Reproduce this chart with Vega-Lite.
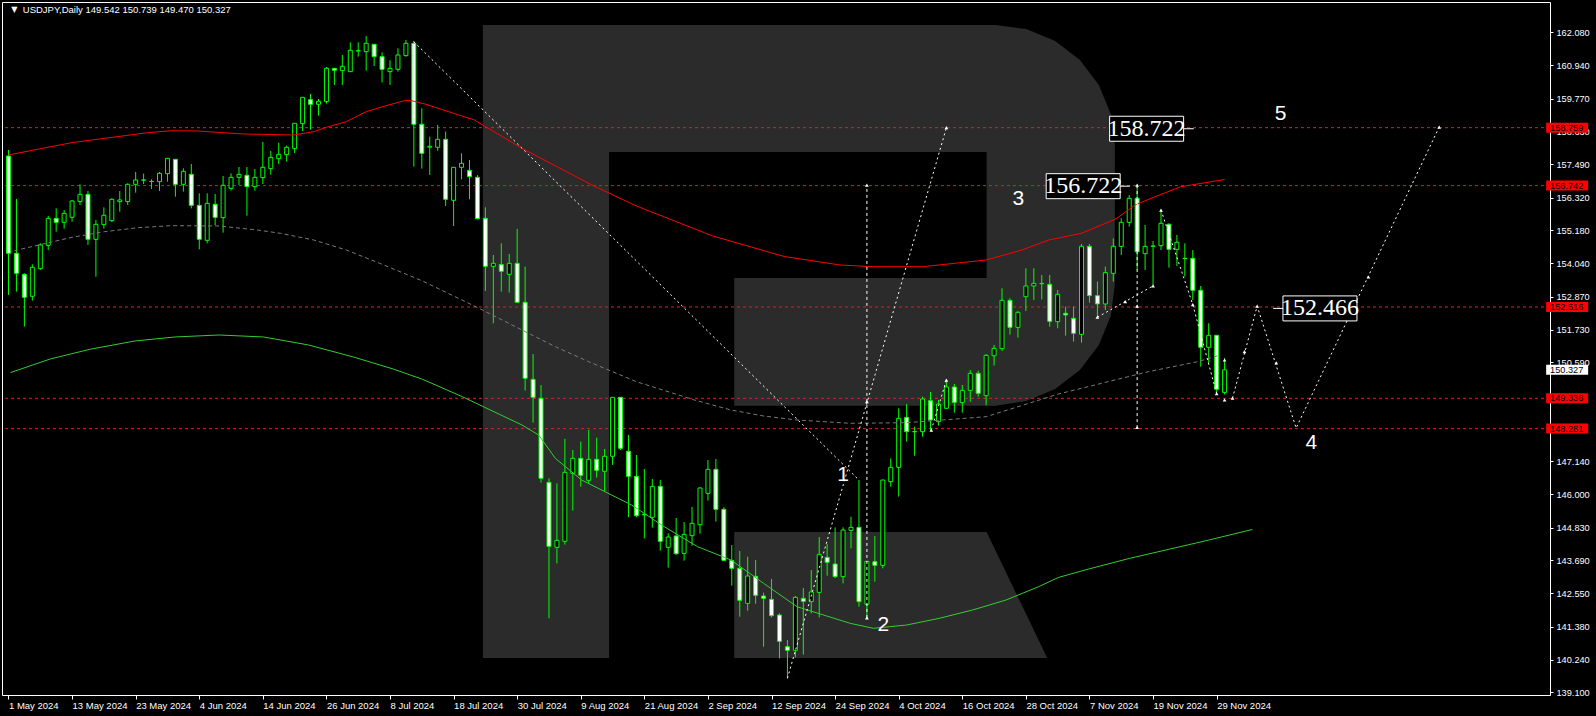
{
"$schema":"https://vega.github.io/schema/vega-lite/v6.json",
"width":1548,"height":693,
"autosize":{"type":"none"},
"padding":{"left":2,"top":2,"right":46,"bottom":21},
"background":"#000000",
"config":{"view":{"stroke":"#ffffff","strokeWidth":1},"font":"Liberation Sans","text":{"font":"Liberation Sans"},
 "axis":{"domain":false,"grid":false,"labelColor":"#ffffff","tickColor":"#ffffff","labelFont":"Liberation Sans","labelOverlap":false,"labelFlush":false}},
"datasets":{
"logoRects":[{"x1":59.69,"x2":75.56,"y1":162.335,"y2":140.294},{"x1":59.69,"x2":124.19,"y1":162.335,"y2":157.912},{"x1":91.31,"x2":124.19,"y1":153.526,"y2":149.079}],
"logoArc":[{"bar":123.06,"top":162.335,"bottom":149.079},{"bar":124.19,"top":162.335,"bottom":149.079},{"bar":128.06,"top":162.192,"bottom":149.246},{"bar":131.69,"top":161.774,"bottom":149.664},{"bar":134.8,"top":161.112,"bottom":150.325},{"bar":137.18,"top":160.245,"bottom":151.192},{"bar":138.68,"top":159.239,"bottom":152.199},{"bar":139.19,"top":158.156,"bottom":153.282}],
"logoLeg":[{"bar":91.31,"top":144.681,"bottom":140.294},{"bar":123.06,"top":144.681,"bottom":140.294},{"bar":130.69,"top":140.294,"bottom":140.294}],
"levels":[{"price":158.759},{"price":156.742},{"price":152.516},{"price":149.336},{"price":148.281}],
"maRed":[{"bar":0,"price":157.81},{"bar":8,"price":158.24},{"bar":17.5,"price":158.585},{"bar":20.5,"price":158.654},{"bar":23.75,"price":158.644},{"bar":26.25,"price":158.598},{"bar":29.6,"price":158.539},{"bar":35.9,"price":158.504},{"bar":38.4,"price":158.62},{"bar":40,"price":158.773},{"bar":42.5,"price":158.968},{"bar":45,"price":159.316},{"bar":47.5,"price":159.525},{"bar":50,"price":159.713},{"bar":50.9,"price":159.688},{"bar":52.5,"price":159.573},{"bar":58.6,"price":159.027},{"bar":64.6,"price":158.041},{"bar":73.4,"price":156.764},{"bar":79,"price":156.032},{"bar":88.6,"price":154.988},{"bar":97.6,"price":154.274},{"bar":104.6,"price":153.978},{"bar":108.75,"price":153.919},{"bar":115,"price":153.919},{"bar":123,"price":154.152},{"bar":127.5,"price":154.5},{"bar":130.9,"price":154.849},{"bar":135,"price":155.082},{"bar":139.25,"price":155.57},{"bar":141.75,"price":156.067},{"bar":143.75,"price":156.3},{"bar":147.5,"price":156.704},{"bar":153,"price":156.955}],
"maGreen":[{"bar":0.25,"price":150.232},{"bar":5.25,"price":150.705},{"bar":10.25,"price":151.043},{"bar":15.9,"price":151.332},{"bar":20.9,"price":151.471},{"bar":26.5,"price":151.541},{"bar":32.1,"price":151.471},{"bar":37.75,"price":151.193},{"bar":43.4,"price":150.775},{"bar":48.4,"price":150.357},{"bar":52.1,"price":149.998},{"bar":57.1,"price":149.392},{"bar":64.6,"price":148.407},{"bar":66.7,"price":148.059},{"bar":68.8,"price":147.247},{"bar":72.1,"price":146.492},{"bar":78.4,"price":145.621},{"bar":82.5,"price":144.866},{"bar":86.7,"price":144.17},{"bar":90.9,"price":143.706},{"bar":95,"price":142.895},{"bar":99.2,"price":142.08},{"bar":105.9,"price":141.502},{"bar":108.8,"price":141.328},{"bar":113,"price":141.443},{"bar":117.1,"price":141.676},{"bar":121.3,"price":141.966},{"bar":125.5,"price":142.313},{"bar":129.6,"price":142.776},{"bar":132.1,"price":143.1},{"bar":136,"price":143.4},{"bar":141,"price":143.76},{"bar":146,"price":144.08},{"bar":151,"price":144.4},{"bar":156.5,"price":144.77}],
"maGray":[{"bar":0.75,"price":154.476},{"bar":3.8,"price":154.674},{"bar":8,"price":154.943},{"bar":12.1,"price":155.138},{"bar":16.3,"price":155.277},{"bar":20.5,"price":155.347},{"bar":26.5,"price":155.336},{"bar":31.3,"price":155.197},{"bar":34.2,"price":155.082},{"bar":38.4,"price":154.848},{"bar":42.5,"price":154.5},{"bar":46.7,"price":154.037},{"bar":52.1,"price":153.421},{"bar":59.2,"price":152.47},{"bar":64.6,"price":151.715},{"bar":68.8,"price":151.133},{"bar":73,"price":150.611},{"bar":79,"price":149.915},{"bar":86.3,"price":149.277},{"bar":90.9,"price":148.929},{"bar":95,"price":148.72},{"bar":99.2,"price":148.581},{"bar":105.9,"price":148.466},{"bar":113,"price":148.487},{"bar":123,"price":148.696},{"bar":132.1,"price":149.486},{"bar":135,"price":149.684},{"bar":143.4,"price":150.263},{"bar":149.6,"price":150.611},{"bar":152.5,"price":150.844}],
"candles":[
{"bar":0,"open":157.774,"high":157.983,"low":152.934,"close":154.385},
{"bar":1,"open":154.385,"high":156.277,"low":153.05,"close":153.688},
{"bar":2,"open":153.654,"high":153.688,"low":151.832,"close":152.853},
{"bar":3,"open":152.888,"high":154.002,"low":152.737,"close":153.897},
{"bar":4,"open":153.851,"high":154.733,"low":153.804,"close":154.675},
{"bar":5,"open":154.663,"high":155.685,"low":154.501,"close":155.603},
{"bar":6,"open":155.603,"high":155.952,"low":155.139,"close":155.464},
{"bar":7,"open":155.464,"high":155.894,"low":155.244,"close":155.777},
{"bar":8,"open":155.638,"high":156.242,"low":155.487,"close":156.207},
{"bar":9,"open":156.184,"high":156.787,"low":156.068,"close":156.439},
{"bar":10,"open":156.439,"high":156.555,"low":154.675,"close":154.872},
{"bar":11,"open":154.872,"high":155.545,"low":153.572,"close":155.394},
{"bar":12,"open":155.383,"high":155.986,"low":155.244,"close":155.708},
{"bar":13,"open":155.522,"high":156.3,"low":155.476,"close":156.265},
{"bar":14,"open":156.184,"high":156.555,"low":155.835,"close":156.242},
{"bar":15,"open":156.184,"high":156.822,"low":156.068,"close":156.787},
{"bar":16,"open":156.787,"high":157.217,"low":156.497,"close":156.938},
{"bar":17,"open":156.93,"high":157.159,"low":156.799,"close":156.94},
{"bar":18,"open":156.885,"high":156.961,"low":156.625,"close":156.89},
{"bar":19,"open":156.88,"high":157.217,"low":156.555,"close":157.17},
{"bar":20,"open":157.159,"high":157.693,"low":156.88,"close":157.693},
{"bar":21,"open":157.658,"high":157.66,"low":156.358,"close":156.787},
{"bar":22,"open":156.787,"high":157.344,"low":156.532,"close":157.24},
{"bar":23,"open":157.135,"high":157.495,"low":155.951,"close":156.056},
{"bar":24,"open":156.056,"high":156.474,"low":154.524,"close":154.872},
{"bar":25,"open":154.837,"high":156.474,"low":154.733,"close":156.126},
{"bar":26,"open":156.091,"high":156.451,"low":155.36,"close":155.638},
{"bar":27,"open":155.627,"high":157.078,"low":155.104,"close":156.753},
{"bar":28,"open":156.648,"high":157.17,"low":156.567,"close":157.031},
{"bar":29,"open":157.031,"high":157.391,"low":156.764,"close":157.135},
{"bar":30,"open":157.101,"high":157.391,"low":155.696,"close":156.706},
{"bar":31,"open":156.706,"high":157.321,"low":156.567,"close":157.031},
{"bar":32,"open":157.02,"high":158.261,"low":156.799,"close":157.379},
{"bar":33,"open":157.333,"high":157.948,"low":157.124,"close":157.727},
{"bar":34,"open":157.681,"high":158.238,"low":157.495,"close":157.832},
{"bar":35,"open":157.82,"high":158.134,"low":157.577,"close":158.076},
{"bar":36,"open":158.029,"high":158.911,"low":157.878,"close":158.911},
{"bar":37,"open":158.9,"high":159.817,"low":158.644,"close":159.817},
{"bar":38,"open":159.735,"high":159.933,"low":158.691,"close":159.573},
{"bar":39,"open":159.573,"high":159.759,"low":159.178,"close":159.677},
{"bar":40,"open":159.666,"high":160.873,"low":159.596,"close":160.826},
{"bar":41,"open":160.826,"high":160.826,"low":160.246,"close":160.757},
{"bar":42,"open":160.745,"high":161.29,"low":160.246,"close":160.896},
{"bar":43,"open":160.71,"high":161.732,"low":160.71,"close":161.453},
{"bar":44,"open":161.43,"high":161.732,"low":161.232,"close":161.44},
{"bar":45,"open":161.407,"high":161.952,"low":160.745,"close":161.697},
{"bar":46,"open":161.662,"high":161.662,"low":160.907,"close":161.232},
{"bar":47,"open":161.232,"high":161.383,"low":160.327,"close":160.791},
{"bar":48,"open":160.71,"high":161.105,"low":160.246,"close":160.826},
{"bar":49,"open":160.791,"high":161.523,"low":160.71,"close":161.29},
{"bar":50,"open":161.267,"high":161.813,"low":161.232,"close":161.697},
{"bar":51,"open":161.697,"high":161.778,"low":157.402,"close":158.877},
{"bar":52,"open":158.877,"high":159.433,"low":157.333,"close":157.867},
{"bar":53,"open":158.08,"high":158.447,"low":157.112,"close":158.11},
{"bar":54,"open":158.075,"high":158.853,"low":157.959,"close":158.354},
{"bar":55,"open":158.354,"high":158.621,"low":156.033,"close":156.265},
{"bar":56,"open":156.23,"high":157.379,"low":155.336,"close":157.379},
{"bar":57,"open":157.379,"high":157.866,"low":156.961,"close":157.518},
{"bar":58,"open":157.274,"high":157.634,"low":156.265,"close":157.054},
{"bar":59,"open":157.031,"high":157.112,"low":155.568,"close":155.592},
{"bar":60,"open":155.603,"high":155.986,"low":153.073,"close":153.932},
{"bar":61,"open":153.932,"high":154.326,"low":151.947,"close":154.036},
{"bar":62,"open":153.997,"high":154.733,"low":153.05,"close":153.758},
{"bar":63,"open":153.653,"high":154.361,"low":153.015,"close":154.036},
{"bar":64,"open":154.036,"high":155.232,"low":152.679,"close":152.679},
{"bar":65,"open":152.679,"high":153.92,"low":149.603,"close":150.032},
{"bar":66,"open":149.997,"high":150.88,"low":148.489,"close":149.37},
{"bar":67,"open":149.336,"high":149.8,"low":146.4,"close":146.55},
{"bar":68,"open":146.411,"high":146.55,"low":141.676,"close":144.183},
{"bar":69,"open":144.148,"high":146.376,"low":143.59,"close":144.392},
{"bar":70,"open":144.357,"high":147.92,"low":144.241,"close":146.76},
{"bar":71,"open":146.724,"high":147.537,"low":145.424,"close":147.247},
{"bar":72,"open":147.247,"high":147.827,"low":146.26,"close":146.655},
{"bar":73,"open":146.481,"high":148.234,"low":146.376,"close":147.212},
{"bar":74,"open":147.212,"high":147.966,"low":146.574,"close":146.829},
{"bar":75,"open":146.794,"high":147.572,"low":146.086,"close":147.317},
{"bar":76,"open":147.317,"high":149.371,"low":147.015,"close":149.371},
{"bar":77,"open":149.371,"high":149.371,"low":147.537,"close":147.595},
{"bar":78,"open":147.491,"high":148.059,"low":145.193,"close":146.62},
{"bar":79,"open":146.619,"high":147.362,"low":145.192,"close":145.25},
{"bar":80,"open":145.3,"high":146.875,"low":144.46,"close":145.28},
{"bar":81,"open":145.192,"high":146.526,"low":144.832,"close":146.271},
{"bar":82,"open":146.271,"high":146.491,"low":144.031,"close":144.356},
{"bar":83,"open":144.147,"high":144.635,"low":143.439,"close":144.507},
{"bar":84,"open":144.542,"high":145.169,"low":143.88,"close":143.927},
{"bar":85,"open":143.938,"high":145.029,"low":143.683,"close":144.6},
{"bar":86,"open":144.553,"high":145.552,"low":144.205,"close":144.983},
{"bar":87,"open":144.936,"high":146.236,"low":144.623,"close":146.213},
{"bar":88,"open":146.027,"high":147.188,"low":145.772,"close":146.863},
{"bar":89,"open":146.863,"high":147.223,"low":145.041,"close":145.47},
{"bar":90,"open":145.47,"high":145.54,"low":143.671,"close":143.694},
{"bar":91,"open":143.694,"high":144.229,"low":142.812,"close":143.416},
{"bar":92,"open":143.416,"high":144.02,"low":141.733,"close":142.302},
{"bar":93,"open":142.197,"high":143.822,"low":141.942,"close":143.149},
{"bar":94,"open":143.137,"high":143.706,"low":142.186,"close":142.476},
{"bar":95,"open":142.453,"high":142.569,"low":140.689,"close":142.371},
{"bar":96,"open":142.337,"high":143.045,"low":141.71,"close":141.768},
{"bar":97,"open":141.791,"high":141.849,"low":140.282,"close":140.874},
{"bar":98,"open":140.689,"high":140.921,"low":139.586,"close":140.561},
{"bar":99,"open":140.561,"high":142.453,"low":140.317,"close":142.406},
{"bar":100,"open":142.371,"high":142.731,"low":140.41,"close":142.267},
{"bar":101,"open":142.256,"high":143.358,"low":141.849,"close":142.592},
{"bar":102,"open":142.58,"high":144.507,"low":141.71,"close":143.903},
{"bar":103,"open":143.799,"high":144.263,"low":143.161,"close":143.625},
{"bar":104,"open":143.567,"high":144.844,"low":143.079,"close":143.126},
{"bar":105,"open":143.126,"high":144.844,"low":142.894,"close":144.751},
{"bar":106,"open":144.739,"high":145.215,"low":144.113,"close":144.844},
{"bar":107,"open":144.844,"high":146.492,"low":142.081,"close":142.256},
{"bar":108,"open":142.163,"high":143.66,"low":141.65,"close":143.66},
{"bar":109,"open":143.647,"high":144.542,"low":142.952,"close":143.521},
{"bar":110,"open":143.521,"high":146.492,"low":143.416,"close":146.492},
{"bar":111,"open":146.434,"high":147.246,"low":146.26,"close":146.933},
{"bar":112,"open":146.933,"high":148.987,"low":145.912,"close":148.639},
{"bar":113,"open":148.674,"high":149.138,"low":147.827,"close":148.175},
{"bar":114,"open":148.17,"high":148.349,"low":147.339,"close":148.18},
{"bar":115,"open":148.175,"high":149.393,"low":148.001,"close":149.312},
{"bar":116,"open":149.254,"high":149.556,"low":148.233,"close":148.581},
{"bar":117,"open":148.523,"high":149.277,"low":148.384,"close":149.138},
{"bar":118,"open":148.987,"high":149.916,"low":148.987,"close":149.73},
{"bar":119,"open":149.73,"high":149.834,"low":148.836,"close":149.196},
{"bar":120,"open":149.184,"high":149.8,"low":148.836,"close":149.614},
{"bar":121,"open":149.614,"high":150.322,"low":149.219,"close":150.206},
{"bar":122,"open":150.206,"high":150.299,"low":149.393,"close":149.51},
{"bar":123,"open":149.428,"high":150.879,"low":149.092,"close":150.833},
{"bar":124,"open":150.816,"high":151.192,"low":150.473,"close":151.076},
{"bar":125,"open":151.065,"high":153.165,"low":150.983,"close":152.748},
{"bar":126,"open":152.748,"high":152.817,"low":151.552,"close":151.807},
{"bar":127,"open":151.807,"high":152.376,"low":151.448,"close":152.33},
{"bar":128,"open":152.875,"high":153.862,"low":152.376,"close":153.247},
{"bar":129,"open":153.247,"high":153.862,"low":152.759,"close":153.339},
{"bar":130,"open":153.325,"high":153.63,"low":152.782,"close":153.335},
{"bar":131,"open":153.305,"high":153.63,"low":151.831,"close":152.016},
{"bar":132,"open":152.005,"high":153.108,"low":151.773,"close":152.957},
{"bar":133,"open":152.296,"high":152.528,"low":151.518,"close":152.238},
{"bar":134,"open":152.122,"high":152.528,"low":151.309,"close":151.599},
{"bar":135,"open":151.564,"high":154.71,"low":151.274,"close":154.628},
{"bar":136,"open":154.628,"high":154.71,"low":152.667,"close":152.911},
{"bar":137,"open":152.911,"high":153.398,"low":152.122,"close":152.621},
{"bar":138,"open":152.621,"high":153.921,"low":152.412,"close":153.712},
{"bar":139,"open":153.688,"high":154.907,"low":153.398,"close":154.628},
{"bar":140,"open":154.628,"high":155.603,"low":154.327,"close":155.464},
{"bar":141,"open":155.464,"high":156.416,"low":155.313,"close":156.3},
{"bar":142,"open":156.3,"high":156.683,"low":153.804,"close":154.44},
{"bar":143,"open":154.373,"high":155.371,"low":153.805,"close":154.628},
{"bar":144,"open":154.63,"high":154.814,"low":153.282,"close":154.64},
{"bar":145,"open":154.652,"high":155.893,"low":154.501,"close":155.429},
{"bar":146,"open":155.394,"high":155.429,"low":153.886,"close":154.524},
{"bar":147,"open":154.524,"high":155.023,"low":153.944,"close":154.768},
{"bar":148,"open":154.2,"high":154.733,"low":153.572,"close":154.21},
{"bar":149,"open":154.21,"high":154.501,"low":152.76,"close":153.096},
{"bar":150,"open":153.096,"high":153.247,"low":150.438,"close":151.112},
{"bar":151,"open":151.112,"high":151.948,"low":150.554,"close":151.53},
{"bar":152,"open":151.53,"high":151.53,"low":149.452,"close":149.65},
{"bar":153,"open":149.542,"high":150.739,"low":149.47,"close":150.327}],
"waves":[{"path":"a","ord":0,"bar":51,"price":161.75},{"path":"a","ord":1,"bar":107,"price":146.49},
{"path":"b","ord":0,"bar":98,"price":139.59},{"path":"b","ord":1,"bar":118,"price":158.76},
{"path":"c","ord":0,"bar":116.1,"price":148.23},{"path":"c","ord":1,"bar":118,"price":149.97},
{"path":"d","ord":0,"bar":137,"price":152.16},{"path":"d","ord":1,"bar":144,"price":153.25},
{"path":"e","ord":0,"bar":145,"price":155.89},{"path":"e","ord":1,"bar":149,"price":152.6},{"path":"e","ord":2,"bar":152,"price":149.5},
{"path":"f","ord":0,"bar":154,"price":149.34},{"path":"f","ord":1,"bar":157.1,"price":152.55},{"path":"f","ord":2,"bar":162,"price":148.3},{"path":"f","ord":3,"bar":180,"price":158.78}],
"verticals":[{"path":"v1","ord":0,"bar":108,"price":141.69},{"path":"v1","ord":1,"bar":108,"price":156.76},{"path":"v2","ord":0,"bar":142,"price":156.76},{"path":"v2","ord":1,"bar":142,"price":148.3}],
"markers":[{"bar":108,"price":141.69},{"bar":108,"price":149.22},{"bar":108,"price":156.76},{"bar":116.1,"price":148.23},{"bar":118,"price":149.97},{"bar":118,"price":158.76},{"bar":137,"price":152.16},{"bar":140.5,"price":152.7},{"bar":144,"price":153.25},{"bar":142,"price":156.76},{"bar":142,"price":152.55},{"bar":142,"price":148.32},{"bar":145,"price":155.89},{"bar":149,"price":152.6},{"bar":152,"price":149.5},{"bar":153,"price":149.28},{"bar":153,"price":150.67},{"bar":154,"price":149.34},{"bar":155.5,"price":150.96},{"bar":157.1,"price":152.55},{"bar":159.5,"price":150.57},{"bar":171.1,"price":153.56},{"bar":180,"price":158.78}],
"boxes":[{"label":"158.722","price":158.722,"cx":143.19,"l1":147.79,"l2":149.12},{"label":"156.722","price":156.722,"cx":135.21,"l1":139.84,"l2":141.09},{"label":"152.466","price":152.466,"cx":165.0,"l1":159.12,"l2":160.46}],
"waveLabels":[{"t":"1","bar":105,"price":146.666},{"t":"2","bar":110.06,"price":141.454},{"t":"3","bar":127.06,"price":156.259},{"t":"4","bar":163.9,"price":147.78},{"t":"5","bar":160.06,"price":159.225}],
"tags":[{"price":158.759,"kind":"level"},{"price":156.742,"kind":"level"},{"price":152.516,"kind":"level"},{"price":149.336,"kind":"level"},{"price":148.281,"kind":"level"},{"price":150.327,"kind":"current"}],
"header":[{"t":"USDJPY,Daily  149.542 150.739 149.470 150.327"}]
},
"layer":[
{"data":{"name":"logoRects"},"mark":{"type":"rect","color":"#2b2b2b"},
 "encoding":{
  "x":{"field":"x1","type":"quantitative","title":null,"scale":{"domain":[-0.1875,193.3125],"nice":false,"zero":false}},
  "x2":{"field":"x2"},
  "y":{"field":"y1","type":"quantitative","title":null,"scale":{"domain":[139.006,163.135],"nice":false,"zero":false}},
  "y2":{"field":"y2"}}},
{"data":{"name":"logoArc"},"mark":{"type":"area","color":"#2b2b2b","orient":"vertical"},
 "encoding":{"x":{"field":"bar","type":"quantitative","title":null},"y":{"field":"top","type":"quantitative","title":null},"y2":{"field":"bottom"}}},
{"data":{"name":"logoLeg"},"mark":{"type":"area","color":"#2b2b2b","orient":"vertical"},
 "encoding":{"x":{"field":"bar","type":"quantitative","title":null},"y":{"field":"top","type":"quantitative","title":null},"y2":{"field":"bottom"}}},
{"data":{"name":"levels"},"mark":{"type":"rule","color":"#e81c1c","strokeDash":[3,3],"strokeWidth":1},
 "encoding":{"y":{"field":"price","type":"quantitative","title":null}}},
{"data":{"name":"candles"},"mark":{"type":"rule","color":"#00ff00","strokeWidth":1},
 "encoding":{
  "x":{"field":"bar","type":"quantitative","title":null,
   "axis":{"values":[0,8,16,24,32,40,48,56,64,72,80,88,96,104,112,120,128,136,144,152],"tickCount":100,
    "labelExpr":"['1 May 2024','13 May 2024','23 May 2024','4 Jun 2024','14 Jun 2024','26 Jun 2024','8 Jul 2024','18 Jul 2024','30 Jul 2024','9 Aug 2024','21 Aug 2024','2 Sep 2024','12 Sep 2024','24 Sep 2024','4 Oct 2024','16 Oct 2024','28 Oct 2024','7 Nov 2024','19 Nov 2024','29 Nov 2024'][round(datum.value/8)]",
    "labelAlign":"left","labelBaseline":"top","labelColor":"#ffffff","labelFont":"Liberation Sans","labelFontSize":9.5,"tickColor":"#ffffff","tickSize":4,"domain":false,"grid":false,"title":null,"labelPadding":1,"labelOverlap":false,"labelFlush":false,"orient":"bottom"}},
  "y":{"field":"low","type":"quantitative","title":null,
   "axis":{"orient":"right","values":[162.08,160.94,159.77,158.63,157.49,156.32,155.18,154.04,152.87,151.73,150.59,147.14,146.0,144.83,143.69,142.55,141.38,140.24,139.1],"tickCount":100,"format":".3f","labelColor":"#ffffff","labelFont":"Liberation Sans","labelFontSize":9.2,"tickColor":"#ffffff","tickSize":3,"labelPadding":3,"domain":false,"grid":false,"title":null,"labelOverlap":false,"labelFlush":false,"labelBaseline":"middle"}},
  "y2":{"field":"high"}}},
{"data":{"name":"candles"},"mark":{"type":"bar","width":4,"stroke":"#00ff00","strokeWidth":1},
 "encoding":{"x":{"field":"bar","type":"quantitative","title":null},"y":{"field":"open","type":"quantitative","title":null},"y2":{"field":"close"},
  "fill":{"condition":{"test":"datum.close >= datum.open","value":"#000000"},"value":"#ffffff"}}},
{"data":{"name":"maGray"},"mark":{"type":"line","color":"#7a7a7a","strokeDash":[4,3],"strokeWidth":1},
 "encoding":{"x":{"field":"bar","type":"quantitative","title":null},"y":{"field":"price","type":"quantitative","title":null}}},
{"data":{"name":"maRed"},"mark":{"type":"line","color":"#ff0000","strokeWidth":1},
 "encoding":{"x":{"field":"bar","type":"quantitative","title":null},"y":{"field":"price","type":"quantitative","title":null}}},
{"data":{"name":"maGreen"},"mark":{"type":"line","color":"#32cd32","strokeWidth":1},
 "encoding":{"x":{"field":"bar","type":"quantitative","title":null},"y":{"field":"price","type":"quantitative","title":null}}},
{"data":{"name":"waves"},"mark":{"type":"line","color":"#ffffff","strokeDash":[2,3],"strokeWidth":1},
 "encoding":{"x":{"field":"bar","type":"quantitative","title":null},"y":{"field":"price","type":"quantitative","title":null},"detail":{"field":"path"},"order":{"field":"ord"}}},
{"data":{"name":"verticals"},"mark":{"type":"line","color":"#ffffff","strokeDash":[3,3],"strokeWidth":1},
 "encoding":{"x":{"field":"bar","type":"quantitative","title":null},"y":{"field":"price","type":"quantitative","title":null},"detail":{"field":"path"},"order":{"field":"ord"}}},
{"data":{"name":"markers"},"mark":{"type":"point","shape":"triangle-up","filled":true,"color":"#ffffff","size":14,"opacity":1},
 "encoding":{"x":{"field":"bar","type":"quantitative","title":null},"y":{"field":"price","type":"quantitative","title":null}}},
{"data":{"name":"boxes"},"mark":{"type":"rule","color":"#ffffff","strokeWidth":1},
 "encoding":{"x":{"field":"l1","type":"quantitative","title":null},"x2":{"field":"l2"},"y":{"field":"price","type":"quantitative","title":null}}},
{"data":{"name":"boxes"},"mark":{"type":"tick","orient":"horizontal","size":74,"thickness":25,"fill":"#000000","stroke":"#ffffff","strokeWidth":1,"opacity":1,"filled":true},
 "encoding":{"x":{"field":"cx","type":"quantitative","title":null},"y":{"field":"price","type":"quantitative","title":null}}},
{"data":{"name":"boxes"},"mark":{"type":"text","color":"#ffffff","font":"Liberation Sans Narrow","fontSize":24,"align":"center","baseline":"middle"},
 "encoding":{"x":{"field":"cx","type":"quantitative","title":null},"y":{"field":"price","type":"quantitative","title":null},"text":{"field":"label"}}},
{"data":{"name":"waveLabels"},"mark":{"type":"text","color":"#ffffff","font":"Liberation Sans","fontSize":21,"align":"center","baseline":"middle"},
 "encoding":{"x":{"field":"bar","type":"quantitative","title":null},"y":{"field":"price","type":"quantitative","title":null},"text":{"field":"t"}}},
{"data":{"name":"tags"},"mark":{"type":"tick","orient":"horizontal","size":42,"thickness":10,"opacity":1,"filled":true},
 "encoding":{"x":{"datum":196.1,"type":"quantitative","title":null},"y":{"field":"price","type":"quantitative","title":null},
  "color":{"field":"kind","type":"nominal","scale":{"domain":["level","current"],"range":["#ff0000","#ffffff"]},"legend":null}}},
{"data":{"name":"tags"},"mark":{"type":"text","color":"#000000","font":"Liberation Sans","fontSize":9.2,"align":"left","baseline":"middle"},
 "encoding":{"x":{"datum":193.95,"type":"quantitative","title":null},"y":{"field":"price","type":"quantitative","title":null},"text":{"field":"price","type":"quantitative","format":".3f"}}},
{"data":{"name":"header"},"mark":{"type":"text","color":"#ffffff","fontSize":8,"align":"center","baseline":"middle","font":"DejaVu Sans"},
 "encoding":{"x":{"datum":0.75,"type":"quantitative","title":null},"y":{"datum":162.86,"type":"quantitative","title":null},"text":{"value":"▼"}}},
{"data":{"name":"header"},"mark":{"type":"text","color":"#ffffff","font":"Liberation Sans","fontSize":9.5,"align":"left","baseline":"middle"},
 "encoding":{"x":{"datum":1.8,"type":"quantitative","title":null},"y":{"datum":162.86,"type":"quantitative","title":null},"text":{"field":"t"}}}
]
}
